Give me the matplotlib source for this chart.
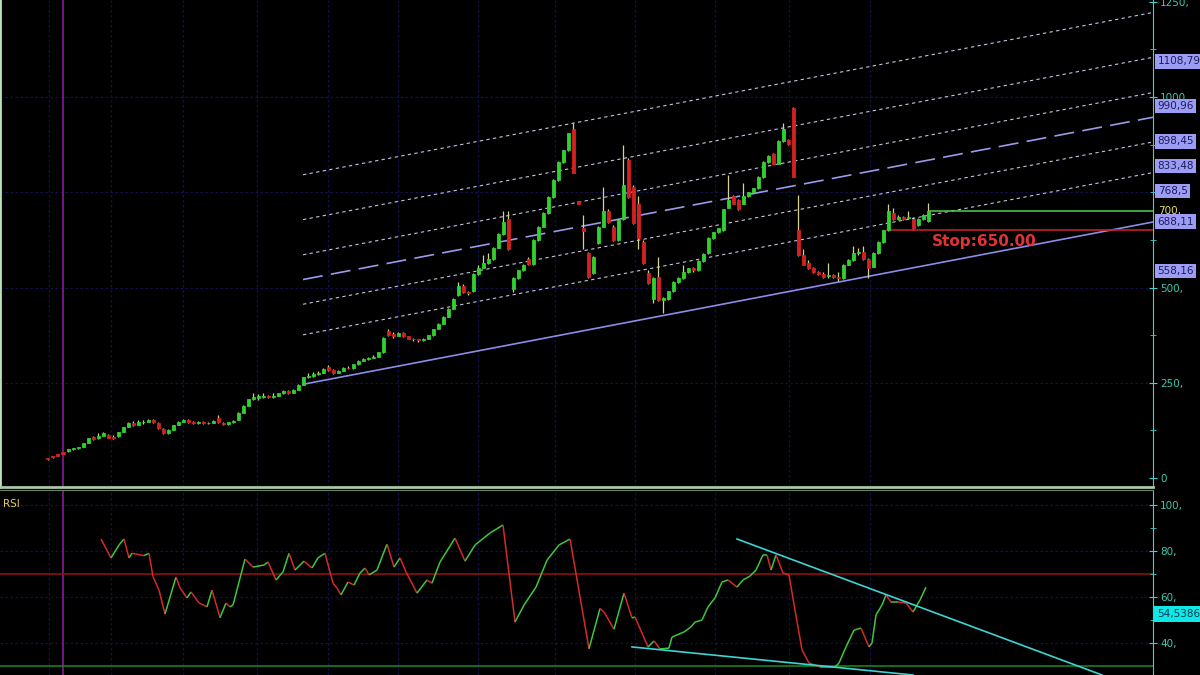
import matplotlib
matplotlib.use("Agg")
import matplotlib.pyplot as plt
import numpy as np
from matplotlib.collections import LineCollection

# ---- daily bars, oldest first ----
opens = [
    52, 57, 62, 67, 70, 75, 78, 82, 92, 108,
    104, 110, 114, 108, 110, 121, 134, 144, 140, 146,
    148, 152, 144, 128, 118, 127, 139, 147, 152, 146,
    144, 147, 144, 145, 157, 144, 141, 146, 152, 171,
    190, 207, 210, 212, 216, 212, 216, 222, 228, 223,
    232, 244, 265, 268, 273, 276, 291, 284, 276, 282,
    289, 288, 298, 308, 313, 316, 318, 330, 385, 378,
    374, 380, 372, 366, 364, 362, 366, 375, 392, 405,
    423, 444, 480, 505, 488, 490, 535, 552, 565, 575,
    605, 640, 680, 495, 525, 545, 575, 562, 625, 660,
    696, 738, 782, 830, 860, 915, 726, 655, 591, 538,
    617, 660, 700, 660, 625, 680, 835, 764, 720, 620,
    538, 470, 528, 467, 470, 490, 515, 525, 540, 550,
    545, 570, 590, 630, 645, 650, 710, 740, 730, 720,
    740, 750, 760, 790, 830, 850, 825, 885, 887, 971,
    650, 585, 565, 550, 540, 535, 530, 532, 528, 525,
    560, 572, 590, 592, 575, 555, 590, 620, 650, 695,
    680, 685, 682, 680, 665, 680, 675,
]
highs = [
    53, 58, 63, 68, 76, 79, 82, 93, 105, 110,
    118, 120, 116, 112, 122, 135, 146, 150, 152, 153,
    154, 154, 146, 130, 128, 140, 149, 155, 154, 150,
    150, 149, 148, 152, 165, 146, 147, 152, 172, 191,
    208, 222, 220, 224, 219, 222, 224, 230, 230, 234,
    246, 266, 275, 278, 280, 290, 296, 286, 284, 292,
    294, 300, 310, 315, 318, 322, 332, 370, 392, 382,
    384, 382, 374, 368, 366, 368, 376, 392, 406, 425,
    446, 472, 515, 508, 492, 537, 560, 585, 590, 607,
    642, 702, 702, 528, 547, 562, 580, 627, 662, 698,
    740, 784, 832, 862, 906, 932, 728, 690, 593, 582,
    662, 764, 705, 664, 680, 874, 840, 770, 740, 625,
    545, 528, 580, 476, 492, 517, 527, 560, 552, 553,
    572, 590, 632, 647, 657, 707, 795, 742, 732, 775,
    752, 762, 792, 832, 847, 852, 887, 932, 890, 975,
    743, 600, 573, 553, 543, 540, 565, 535, 540, 562,
    574, 610, 605, 610, 578, 592, 622, 652, 720, 710,
    690, 688, 700, 684, 682, 692, 722,
]
lows = [
    48, 53, 58, 63, 69, 74, 77, 81, 91, 101,
    102, 109, 104, 103, 108, 120, 133, 136, 138, 142,
    146, 144, 128, 116, 116, 126, 138, 146, 144, 142,
    143, 142, 142, 144, 144, 139, 140, 145, 151, 170,
    189, 205, 206, 210, 210, 210, 215, 221, 220, 222,
    231, 243, 262, 266, 270, 275, 282, 274, 275, 281,
    285, 287, 297, 307, 311, 314, 317, 329, 372, 368,
    372, 369, 364, 360, 358, 360, 365, 374, 390, 404,
    422, 443, 478, 486, 480, 488, 533, 550, 563, 573,
    603, 638, 598, 488, 523, 543, 560, 560, 623, 658,
    694, 736, 780, 828, 858, 800, 718, 600, 526, 536,
    615, 658, 670, 622, 623, 678, 736, 668, 600, 562,
    508, 460, 465, 433, 468, 488, 512, 523, 538, 542,
    543, 568, 588, 628, 643, 648, 708, 718, 703, 718,
    738, 748, 758, 788, 828, 823, 823, 883, 875, 790,
    583, 558, 548, 538, 533, 526, 525, 526, 518, 523,
    558, 570, 586, 573, 525, 553, 588, 618, 648, 678,
    676, 676, 680, 650, 662, 678, 673,
]
closes = [
    49, 54, 59, 64, 75, 78, 81, 92, 104, 103,
    110, 118, 106, 105, 121, 134, 144, 138, 147, 148,
    152, 146, 130, 118, 127, 139, 147, 152, 146, 144,
    147, 144, 145, 150, 146, 141, 146, 150, 171, 190,
    207, 212, 214, 215, 212, 216, 222, 228, 223, 232,
    244, 265, 268, 273, 276, 287, 284, 276, 282, 289,
    288, 298, 308, 313, 316, 318, 330, 368, 375, 372,
    380, 372, 366, 364, 362, 366, 375, 390, 405, 423,
    444, 470, 505, 488, 486, 535, 552, 565, 575, 605,
    640, 672, 600, 525, 545, 560, 562, 625, 660, 696,
    738, 782, 830, 860, 905, 801, 720, 648, 528, 580,
    660, 700, 672, 625, 678, 770, 738, 669, 630, 565,
    512, 525, 467, 473, 490, 515, 525, 540, 550, 545,
    570, 588, 630, 645, 655, 705, 730, 720, 705, 740,
    750, 760, 790, 830, 845, 825, 885, 915, 877, 790,
    585, 560, 550, 540, 535, 528, 532, 528, 525, 560,
    572, 590, 593, 575, 550, 590, 620, 650, 700, 680,
    685, 680, 686, 655, 680, 690, 700,
]

# ---- RSI trace (bar position, value) ----
rsi_pos = [
    10.6, 12.6, 14.2, 15.2, 16.2, 16.8, 19.2, 20.2, 21, 22.2,
    23.4, 25.6, 26.4, 27.8, 28.6, 30.2, 31.8, 32.8, 34.4, 35.6,
    36.4, 37, 39.4, 41, 43.2, 44, 45.6, 47, 48.2, 49.4,
    51.2, 52.8, 54, 55.4, 57, 57.8, 58.6, 60, 61.2, 62.4,
    63.4, 64.2, 65.8, 67.8, 69.2, 70.4, 71.6, 73.8, 75.8, 76.8,
    78.4, 81.4, 83.4, 85.4, 88.4, 91, 93.4, 95.2, 97.6, 99.8,
    102.2, 104.4, 108.2, 110.4, 111.2, 113.2, 115.2, 116.8, 117.4, 120,
    121.2, 122.4, 124.2, 124.8, 127.2, 128.6, 129.4, 130.8, 132, 133.4,
    134.8, 136, 137.8, 139, 140.4, 141.6, 143, 143.8, 144.6, 145.6,
    147, 148.2, 149.4, 150.8, 152.2, 154.4, 157.4, 158.2, 159.6, 161.2,
    162.6, 164.2, 164.8, 165.6, 166.8, 167.6, 168.6, 170, 171.6, 173,
    174.4, 175.6,
]
rsi_vals = [
    85.2, 77, 82.6, 85.2, 77, 79, 78, 79, 68.8, 63,
    52.6, 68.7, 64, 59.6, 62.2, 57.4, 55.7, 63, 51, 57.4,
    55.7, 56.5, 76.5, 73, 73.9, 75.2, 67.4, 70.9, 79, 71.7,
    75.6, 72.6, 77, 79, 66, 63.9, 60.9, 66.5, 65.2, 70.4,
    72.6, 69.6, 71.7, 83, 73, 77, 70.9, 61.7, 67.4, 66,
    75.2, 85.6, 75.6, 82.6, 87.8, 91.3, 49.1, 56.5, 64.3, 76,
    82.6, 85.2, 37.5, 55, 53.5, 46, 61.7, 50.9, 51.3, 38.3,
    40.9, 37.4, 37.8, 42.6, 44.8, 47, 49.1, 50, 55.7, 59.6,
    66.5, 67.4, 64.3, 67.4, 69.1, 71.7, 78.3, 78.3, 71.7, 78.3,
    70.4, 69.6, 54.3, 37, 31.3, 29.6, 29.6, 31.3, 38.3, 45.6,
    46.5, 38.3, 40, 52.2, 56.5, 60.9, 57.8, 57.8, 57.4, 53.5,
    58.7, 64.3,
]

# month separators and the marker line (bar positions)
month_starts = [0.2, 12.6, 27, 41.8, 56, 70, 86, 101.4, 117.4, 133.4, 148.2, 164.4]
marker_bar = 3

# fibonacci channel: base line anchors + width
chan_x = [51, 221]
chan_base = [246, 672]
chan_width = 550
fib_levels = [0.236, 0.382, 0.5, 0.618, 0.786, 1.0]

# right-hand price boxes
box_vals = [1108.79, 990.96, 898.45, 833.48, 768.5, 688.11, 558.16]

last_price = 700
stop_price = 650
stop_from = 167.8

# RSI trend lines
rsi_upper_x, rsi_upper_y = [137.8, 210.8], [85.2, 26.1]
rsi_lower_x, rsi_lower_y = [116.8, 173.0], [38.3, 26.1]
rsi_last = 54.5386

price_ticks = [0, 250, 500, 1000, 1250]
rsi_ticks = [40, 60, 80, 100]

BG = "#000000"
GRID = "#111150"
AXIS = "#40d0d0"
LABEL = "#3cc8b0"

fig = plt.figure(figsize=(12, 6.75), dpi=100, facecolor=BG)
ax = fig.add_axes([0, 188 / 675, 1153 / 1200, 487 / 675])
ax_rsi = fig.add_axes([0, 0, 1153 / 1200, 185 / 675], sharex=ax)

for a in (ax, ax_rsi):
    a.set_facecolor(BG)
    a.yaxis.tick_right()
    a.tick_params(axis="x", which="both", bottom=False, labelbottom=False)
    a.tick_params(axis="y", which="both", direction="inout", colors=AXIS,
                  labelcolor=LABEL, labelsize=7.5, pad=2)
    a.tick_params(axis="y", which="major", length=6)
    a.tick_params(axis="y", which="minor", length=4)
    for m in month_starts:
        a.axvline(m, color=GRID, lw=0.9, ls=(0, (2, 2)), zorder=0)
    a.axvline(marker_bar, color="#8a1a9a", lw=1.2, zorder=1)
    a.spines["right"].set_color(AXIS)
    a.spines["top"].set_visible(False)
    a.spines["left"].set_visible(False)
    a.spines["bottom"].set_visible(False)

ax.spines["left"].set_visible(True)
ax.spines["left"].set_color("#b8e0b8")
ax.spines["left"].set_linewidth(2)
ax.spines["bottom"].set_visible(True)
ax.spines["bottom"].set_color("#a8c8a8")
ax.spines["bottom"].set_linewidth(2)
ax_rsi.spines["top"].set_visible(True)
ax_rsi.spines["top"].set_color("#708070")

# ---- price panel ----
ax.set_xlim(-9.6, 221)
ax.set_ylim(-23.6, 1254.75)
for lvl in (250, 500, 750, 1000):
    ax.axhline(lvl, color=GRID, lw=0.9, ls=(0, (2, 2)), zorder=0)

ax.set_yticks(price_ticks)
ax.set_yticklabels([f"{v}," if v else "0" for v in price_ticks])
ax.set_yticks(np.arange(0, 1251, 125), minor=True)

# channel
cx = np.array(chan_x, dtype=float)
cb = np.array(chan_base, dtype=float)
ax.plot(cx, cb, color="#8c8ce8", lw=1.2, zorder=2)
for f in fib_levels:
    yy = cb + f * chan_width
    if f == 0.5:
        ax.plot(cx, yy, color="#9a9aec", lw=1.2, ls=(0, (12, 5)), zorder=2)
    else:
        ax.plot(cx, yy, color="#c4c4e4", lw=0.8, ls=(0, (3, 3)), zorder=2)

# candles
o = np.array(opens, dtype=float)
h = np.array(highs, dtype=float)
l = np.array(lows, dtype=float)
c = np.array(closes, dtype=float)
xb = np.arange(len(c))
up = c >= o
ax.vlines(xb, l, h, color="#d4d48c", lw=0.9, zorder=3)
body_col = np.where(up, "#2fd02f", "#d42020")
ax.bar(xb, c - o, bottom=o, width=0.6, color=body_col, edgecolor=body_col,
       linewidth=0.6, zorder=4)

# last price / stop
ax.plot([xb[-1] + 0.3, 221], [last_price, last_price], color="#50d050", lw=1.1, zorder=3)
ax.plot([stop_from, 221], [stop_price, stop_price], color="#c02020", lw=1.2, zorder=3)
ax.text(176.8, stop_price - 28, f"Stop:{stop_price:.2f}", color="#e03232",
        fontsize=11, fontweight="bold", va="center", ha="left", zorder=5)

ytr = ax.get_yaxis_transform()
for v in box_vals:
    ax.text(1.004, v - 15, f"{v:g}".replace(".", ","), transform=ytr,
            fontsize=7.5, color="#1c1c5c", va="center", ha="left", clip_on=False,
            bbox=dict(boxstyle="square,pad=0.22", fc="#9c9cf4", ec="none"), zorder=6)
ax.text(1.004, last_price, f"{last_price},", transform=ytr, fontsize=7.5,
        color="#e8e060", va="center", ha="left", clip_on=False)

# ---- RSI panel ----
ax_rsi.set_ylim(26.1, 106.5)
for lvl in rsi_ticks:
    ax_rsi.axhline(lvl, color=GRID, lw=0.9, ls=(0, (2, 2)), zorder=0)
ax_rsi.axhline(70, color="#8c1212", lw=1.2, zorder=1)
ax_rsi.axhline(30, color="#1a801a", lw=1.2, zorder=1)
ax_rsi.set_yticks(rsi_ticks)
ax_rsi.set_yticklabels([f"{v}," for v in rsi_ticks])
ax_rsi.set_yticks([50, 70, 90], minor=True)

rx = np.array(rsi_pos)
ry = np.array(rsi_vals)
segs = np.stack([np.column_stack([rx[:-1], ry[:-1]]),
                 np.column_stack([rx[1:], ry[1:]])], axis=1)
seg_col = np.where(np.diff(ry) >= 0, "#3cc83c", "#d42a2a")
ax_rsi.add_collection(LineCollection(segs, colors=seg_col, linewidths=1.1, zorder=3))

ax_rsi.plot(rsi_upper_x, rsi_upper_y, color="#3cd4d4", lw=1.2, zorder=4)
ax_rsi.plot(rsi_lower_x, rsi_lower_y, color="#3cd4d4", lw=1.2, zorder=4)

ax_rsi.text(0.003, 0.95, "RSI", transform=ax_rsi.transAxes, color="#e0d060",
            fontsize=7.5, va="top", ha="left")
ax_rsi.text(1.004, rsi_last - 1.9, f"{rsi_last}".replace(".", ","),
            transform=ax_rsi.get_yaxis_transform(), fontsize=7.5, color="#0a3a50",
            va="center", ha="left", clip_on=False,
            bbox=dict(boxstyle="square,pad=0.3", fc="#10e8e8", ec="none"), zorder=6)

fig.savefig("out.png", dpi=100, facecolor=BG)
